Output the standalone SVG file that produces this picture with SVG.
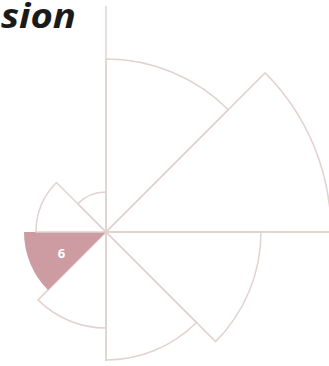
<svg xmlns="http://www.w3.org/2000/svg" width="329" height="366" viewBox="0 0 329 366">
<style>
.s{fill:none;stroke:#e0d3d0;stroke-width:1.5;stroke-linejoin:round}
.ax{stroke:#e0d3d0;stroke-width:1.5;fill:none}
.hl{fill:#cd9ca3;stroke:none}
.t{font-family:"Open Sans","Liberation Sans",sans-serif;font-weight:bold;font-style:italic;fill:#1a1a1a}
.lb{font-family:"Open Sans","Liberation Sans",sans-serif;font-weight:bold;fill:#ffffff;font-size:13px}
</style>
<rect width="329" height="366" fill="#ffffff"/>
<text class="t" x="1" y="28" font-size="34" textLength="75" lengthAdjust="spacingAndGlyphs">sion</text>
<g id="connectors">
<line class="ax" x1="106" y1="6" x2="106" y2="361"/>
<line class="ax" x1="106" y1="232" x2="329" y2="232"/>
</g>
<g id="sector1"><path class="s" d="M106,232 L106,59 A173,173 0 0 1 228.3,109.7 Z"/></g>
<g id="sector2"><path class="s" d="M106,232 L265.1,72.9 A225,225 0 0 1 331,232 Z"/></g>
<g id="sector3"><path class="s" d="M106,232 L261,232 A155,155 0 0 1 215.6,341.6 Z"/></g>
<g id="sector4"><path class="s" d="M106,232 L196.5,322.5 A128,128 0 0 1 106,360 Z"/></g>
<g id="sector5"><path class="s" d="M106,232 L106,328 A96,96 0 0 1 38.1,299.9 Z"/></g>
<g id="sector6"><path class="hl" d="M106,232 L48,290 A82,82 0 0 1 24,232 Z"/><text class="lb" x="61.5" y="258" text-anchor="middle">6</text></g>
<g id="sector7"><path class="s" d="M106,232 L36,232 A70,70 0 0 1 56.5,182.5 Z"/></g>
<g id="sector8"><path class="s" d="M106,232 L77.7,203.7 A40,40 0 0 1 106,192 Z"/></g>
</svg>
